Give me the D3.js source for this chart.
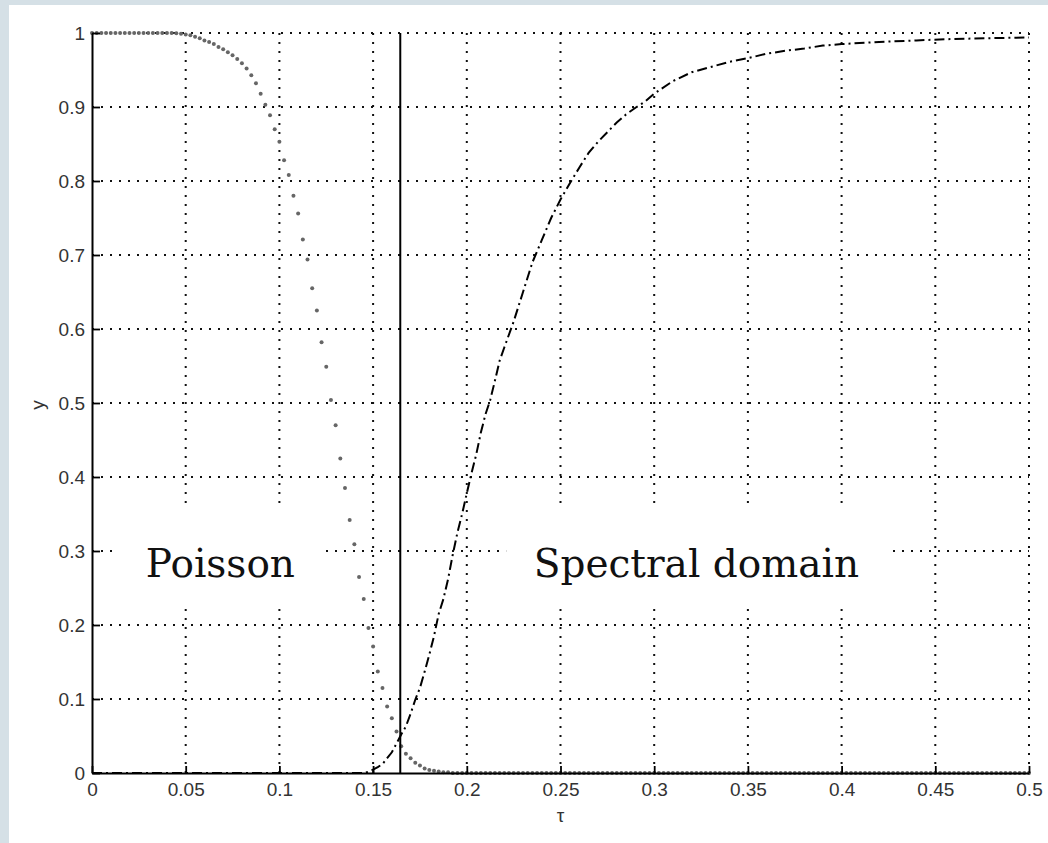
<!DOCTYPE html>
<html lang="en">
<head>
<meta charset="UTF-8">
<title>Poisson / Spectral domain</title>
<script src="https://cdn.jsdelivr.net/npm/d3@7"></script>
<style>
  body { margin: 0; background: #d5e0e6; }
  svg { display: block; }
</style>
</head>
<body>
<script>
// ticks
var xTicks = [0, 0.05, 0.1, 0.15, 0.2, 0.25, 0.3, 0.35, 0.4, 0.45, 0.5];
var xTickLabels = ["0", "0.05", "0.1", "0.15", "0.2", "0.25", "0.3", "0.35", "0.4", "0.45", "0.5"];
var yTicks = [0, 0.1, 0.2, 0.3, 0.4, 0.5, 0.6, 0.7, 0.8, 0.9, 1];
var yTickLabels = ["0", "0.1", "0.2", "0.3", "0.4", "0.5", "0.6", "0.7", "0.8", "0.9", "1"];

// Poisson series: one point every 0.0025 from 0 to 0.5
var poissonStep = 0.0025;
var poissonY = [
  1, 1, 1, 1, 1, 1, 1, 1, 1, 1,
  1, 1, 1, 1, 1, 1, 1, 1, 0.9995, 0.999,
  0.998, 0.997, 0.995, 0.993, 0.990, 0.988, 0.985, 0.981, 0.978, 0.974,
  0.970, 0.965, 0.959, 0.952, 0.943, 0.932, 0.918, 0.903, 0.889, 0.870,
  0.853, 0.828, 0.808, 0.780, 0.756, 0.721, 0.694, 0.655, 0.625, 0.582,
  0.549, 0.504, 0.470, 0.425, 0.385, 0.342, 0.309, 0.265, 0.235, 0.196,
  0.171, 0.137, 0.115, 0.090, 0.074, 0.056, 0.036, 0.026, 0.020, 0.014,
  0.010, 0.006, 0.004, 0.003, 0.002, 0.001, 0.001, 0, 0, 0,
  0, 0, 0, 0, 0, 0, 0, 0, 0, 0,
  0, 0, 0, 0, 0, 0, 0, 0, 0, 0,
  0, 0, 0, 0, 0, 0, 0, 0, 0, 0,
  0, 0, 0, 0, 0, 0, 0, 0, 0, 0,
  0, 0, 0, 0, 0, 0, 0, 0, 0, 0,
  0, 0, 0, 0, 0, 0, 0, 0, 0, 0,
  0, 0, 0, 0, 0, 0, 0, 0, 0, 0,
  0, 0, 0, 0, 0, 0, 0, 0, 0, 0,
  0, 0, 0, 0, 0, 0, 0, 0, 0, 0,
  0, 0, 0, 0, 0, 0, 0, 0, 0, 0,
  0, 0, 0, 0, 0, 0, 0, 0, 0, 0,
  0, 0, 0, 0, 0, 0, 0, 0, 0, 0,
  0
];

// spectral domain series
var spectralX = [0, 0.145, 0.148, 0.1525, 0.155, 0.1575, 0.16, 0.1625, 0.165, 0.1675,
  0.17, 0.1725, 0.175, 0.1775, 0.18, 0.1825, 0.185, 0.1875, 0.19, 0.1925,
  0.195, 0.1975, 0.2, 0.2025, 0.205, 0.2075, 0.21, 0.2125, 0.215, 0.2175,
  0.22, 0.225, 0.23, 0.235, 0.24, 0.245, 0.25, 0.255, 0.26, 0.265,
  0.27, 0.275, 0.28, 0.285, 0.29, 0.295, 0.3, 0.31, 0.32, 0.33,
  0.34, 0.35, 0.36, 0.37, 0.38, 0.39, 0.4, 0.42, 0.44, 0.46, 0.48, 0.5];
var spectralY = [0, 0, 0.002, 0.008, 0.012, 0.020, 0.028, 0.040, 0.052, 0.063,
  0.080, 0.099, 0.115, 0.137, 0.160, 0.185, 0.215, 0.235, 0.262, 0.295,
  0.325, 0.350, 0.378, 0.405, 0.430, 0.460, 0.485, 0.504, 0.530, 0.557,
  0.575, 0.610, 0.650, 0.690, 0.720, 0.750, 0.775, 0.797, 0.818, 0.838,
  0.853, 0.866, 0.879, 0.890, 0.899, 0.907, 0.918, 0.935, 0.947, 0.954,
  0.961, 0.966, 0.972, 0.976, 0.979, 0.983, 0.985, 0.988, 0.990, 0.992, 0.993, 0.994];

var boundaryX = 0.1645;

var width = 1048, height = 843;
var svg = d3.select("body").append("svg").attr("width", width).attr("height", height);

// white panel
svg.append("rect").attr("x", 9).attr("y", 5).attr("width", width - 9).attr("height", height - 5).attr("fill", "#fff");

var xScale = d3.scaleLinear().domain([0, 0.5]).range([92, 1029]);
var yScale = d3.scaleLinear().domain([0, 1]).range([773, 33]);

// grid
var grid = svg.append("g").attr("stroke", "#111").attr("stroke-width", 2).attr("stroke-dasharray", "2,7");
grid.selectAll(".gx").data(xTicks.slice(1)).enter().append("line")
  .attr("x1", function(d) { return xScale(d); }).attr("x2", function(d) { return xScale(d); })
  .attr("y1", yScale(0)).attr("y2", yScale(1));
grid.selectAll(".gy").data(yTicks.slice(1)).enter().append("line")
  .attr("x1", xScale(0)).attr("x2", xScale(0.5))
  .attr("y1", function(d) { return yScale(d); }).attr("y2", function(d) { return yScale(d); });

// spectral dash-dot curve
var line = d3.line()
  .x(function(d, i) { return xScale(spectralX[i]); })
  .y(function(d) { return yScale(d); });
svg.append("path").datum(spectralY)
  .attr("d", line)
  .attr("fill", "none").attr("stroke", "#000").attr("stroke-width", 2)
  .attr("stroke-dasharray", "10,4,2,4");

// poisson points
svg.append("g").selectAll("circle").data(poissonY).enter().append("circle")
  .attr("cx", function(d, i) { return xScale(i * poissonStep); })
  .attr("cy", function(d) { return yScale(d); })
  .attr("r", 2)
  .attr("fill", "#666");

// boundary line
svg.append("line")
  .attr("x1", xScale(boundaryX)).attr("x2", xScale(boundaryX))
  .attr("y1", yScale(0)).attr("y2", yScale(1))
  .attr("stroke", "#000").attr("stroke-width", 2);

// axes
var xAxis = d3.axisBottom(xScale).tickValues(xTicks)
  .tickFormat(function(d, i) { return xTickLabels[i]; })
  .tickSizeInner(-7).tickSizeOuter(0).tickPadding(10);
var yAxis = d3.axisLeft(yScale).tickValues(yTicks)
  .tickFormat(function(d, i) { return yTickLabels[i]; })
  .tickSizeInner(-8).tickSizeOuter(0).tickPadding(7);

var gx = svg.append("g").attr("transform", "translate(0," + yScale(0) + ")").call(xAxis);
var gy = svg.append("g").attr("transform", "translate(" + xScale(0) + ",0)").call(yAxis);
[gx, gy].forEach(function(g) {
  g.select(".domain").attr("stroke", "#000").attr("stroke-width", 2);
  g.selectAll(".tick line").attr("stroke", "#000").attr("stroke-width", 1.8);
  g.selectAll(".tick text").attr("fill", "#333").style("font-family", "'Liberation Sans', Arial, sans-serif").style("font-size", "19px");
});

// axis titles
svg.append("text").attr("transform", "translate(44,405) rotate(-90)")
  .attr("text-anchor", "middle").attr("fill", "#333")
  .style("font-family", "'Liberation Sans', Arial, sans-serif").style("font-size", "19px").text("y");
svg.append("text").attr("x", xScale(0.25)).attr("y", 822)
  .attr("text-anchor", "middle").attr("fill", "#333")
  .style("font-family", "'Liberation Sans', Arial, sans-serif").style("font-size", "19px").text("τ");

// region labels
var labels = [
  { text: "Poisson", x0: 0.0125, x1: 0.1245 },
  { text: "Spectral domain", x0: 0.221, x1: 0.424 }
];
labels.forEach(function(l) {
  svg.append("rect")
    .attr("x", xScale(l.x0)).attr("width", xScale(l.x1) - xScale(l.x0))
    .attr("y", yScale(0.36)).attr("height", yScale(0.23) - yScale(0.36))
    .attr("fill", "#fff");
  svg.append("text")
    .attr("x", (xScale(l.x0) + xScale(l.x1)) / 2).attr("y", 577)
    .attr("text-anchor", "middle").attr("fill", "#111")
    .style("font-family", "'DejaVu Serif', serif").style("font-size", "39px")
    .text(l.text);
});
</script>
</body>
</html>
